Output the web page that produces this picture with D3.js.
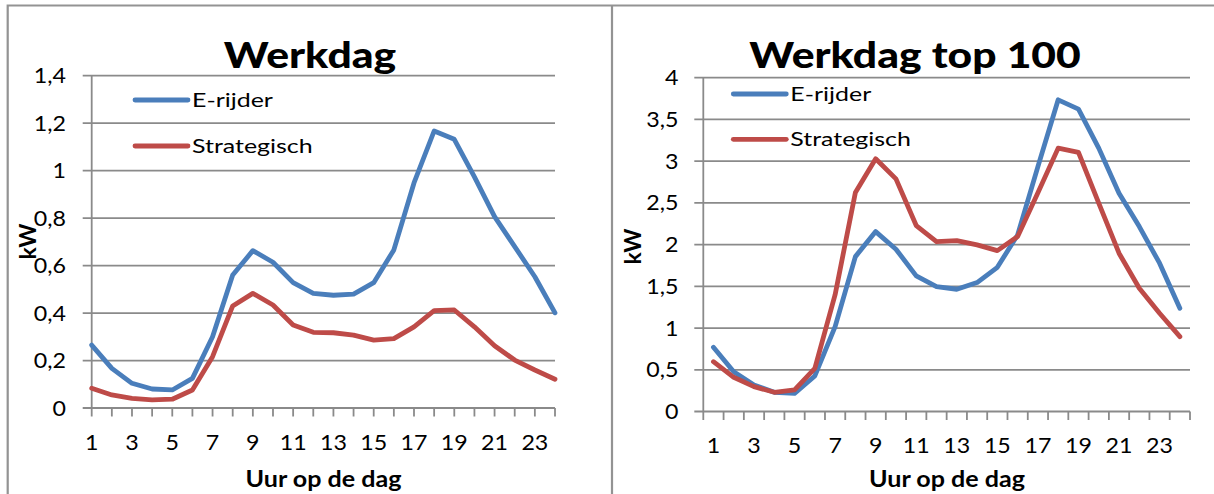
<!DOCTYPE html>
<html>
<head>
<meta charset="utf-8">
<script src="https://cdn.jsdelivr.net/npm/d3@7"></script>
<style>
  html, body { margin: 0; padding: 0; background: #fff; }
  svg { display: block; font-family: Lato, "Liberation Sans", sans-serif; }
</style>
</head>
<body>
<svg id="chart" width="1214" height="494"></svg>
<script>
// Uur van de dag (1..24)
const hours = d3.range(1, 25);
const hourLabels = [1, 3, 5, 7, 9, 11, 13, 15, 17, 19, 21, 23];
const seriesNames = ["E-rijder", "Strategisch"];

// Werkdag: gemiddeld vermogen (kW)
const werkdagERijder = [0.265, 0.167, 0.104, 0.080, 0.076, 0.125, 0.300, 0.560, 0.663, 0.614, 0.528, 0.483,
                        0.475, 0.480, 0.528, 0.666, 0.948, 1.167, 1.132, 0.974, 0.806, 0.680, 0.553, 0.401];
const werkdagStrategisch = [0.083, 0.055, 0.041, 0.034, 0.037, 0.076, 0.216, 0.430, 0.483, 0.434, 0.350, 0.319,
                            0.317, 0.307, 0.286, 0.292, 0.342, 0.410, 0.413, 0.342, 0.262, 0.202, 0.160, 0.121];
const werkdagTicks = [0, 0.2, 0.4, 0.6, 0.8, 1, 1.2, 1.4];

// Werkdag top 100 (kW)
const top100ERijder = [0.77, 0.477, 0.318, 0.230, 0.218, 0.426, 1.017, 1.856, 2.156, 1.945, 1.625, 1.497,
                       1.465, 1.545, 1.728, 2.116, 2.935, 3.735, 3.623, 3.156, 2.616, 2.216, 1.777, 1.237];
const top100Strategisch = [0.597, 0.410, 0.298, 0.230, 0.258, 0.518, 1.400, 2.624, 3.028, 2.788, 2.228, 2.036,
                           2.048, 1.996, 1.928, 2.096, 2.620, 3.156, 3.104, 2.497, 1.897, 1.477, 1.177, 0.897];
const top100Ticks = [0, 0.5, 1, 1.5, 2, 2.5, 3, 3.5, 4];

const colors = ["#4a7ebb", "#be4b48"];
const gridColor = "#8a8a8a";
const fmt = v => String(v).replace(".", ",");

const svg = d3.select("#chart");

// Frames around both panels
svg.append("path")
  .attr("d", "M7.7,500 V5.5 H1230 M612,5.5 V500")
  .attr("fill", "none").attr("stroke", "#939393").attr("stroke-width", 2.2);

function stretchedText(g, x, y, txt, size, weight, anchor, sx) {
  return g.append("text")
    .attr("transform", `translate(${x},${y}) scale(${sx},1)`)
    .attr("text-anchor", anchor)
    .attr("font-size", size)
    .attr("font-weight", weight)
    .attr("fill", "#000")
    .text(txt);
}

function drawPanel(cfg) {
  const g = svg.append("g");
  const y = d3.scaleLinear().domain([0, cfg.ymax]).range([cfg.y0, cfg.y1]);
  let tickXs;
  if (cfg.between) {
    const x = d3.scaleBand().domain(hours).range([cfg.x0, cfg.x1]).paddingInner(0).paddingOuter(0);
    tickXs = hours.map(h => x(h)).concat([cfg.x1]);
    cfg.xpos = h => x(h) + x.bandwidth() / 2;
  } else {
    const x = d3.scalePoint().domain(hours).range([cfg.x0, cfg.x1]);
    tickXs = hours.map(h => x(h));
    cfg.xpos = h => x(h);
  }

  // Horizontal gridlines with small left ticks
  g.selectAll("line.grid").data(cfg.ticks).join("line")
    .attr("x1", cfg.x0 - 9).attr("x2", cfg.x1)
    .attr("y1", d => y(d)).attr("y2", d => y(d))
    .attr("stroke", gridColor).attr("stroke-width", 1.8);

  // Vertical axis line
  g.append("line")
    .attr("x1", cfg.x0).attr("x2", cfg.x0)
    .attr("y1", y(cfg.ymax)).attr("y2", y(0))
    .attr("stroke", gridColor).attr("stroke-width", 1.8);

  // Category tick marks below the x axis
  g.selectAll("line.xt").data(tickXs).join("line")
    .attr("x1", d => d).attr("x2", d => d)
    .attr("y1", y(0)).attr("y2", y(0) + 8.5)
    .attr("stroke", gridColor).attr("stroke-width", 1.8);

  // Y tick labels
  cfg.ticks.forEach(t => {
    stretchedText(g, cfg.ylabX, y(t) + 7.5, fmt(t), 21.5, 400, "end", 1.08);
  });

  // X tick labels (odd hours)
  hourLabels.forEach(h => {
    stretchedText(g, cfg.xpos(h), cfg.xlabY, String(h), 21.5, 400, "middle", 1.08);
  });

  // Series lines
  const line = d3.line().x((d, i) => cfg.xpos(hours[i])).y(d => y(d));
  cfg.series.forEach((s, i) => {
    g.append("path").datum(s)
      .attr("d", line)
      .attr("fill", "none")
      .attr("stroke", colors[i])
      .attr("stroke-width", 4.8)
      .attr("stroke-linejoin", "round")
      .attr("stroke-linecap", "round");
  });

  // Legend
  seriesNames.forEach((name, i) => {
    const ly = cfg.legY[i];
    g.append("line")
      .attr("x1", cfg.legX).attr("x2", cfg.legX + 53)
      .attr("y1", ly).attr("y2", ly)
      .attr("stroke", colors[i]).attr("stroke-width", 4.8)
      .attr("stroke-linecap", "round");
    stretchedText(g, cfg.legX + 57, ly + 7, name, 19.5, 400, "start", 1.28);
  });

  // Title
  stretchedText(g, cfg.titleX, cfg.titleY, cfg.title, 35.5, 900, "middle", 1.2);

  // Axis titles
  stretchedText(g, cfg.xtitleX, 487, "Uur op de dag", 22, 700, "middle", 1.14);
  g.append("text")
    .attr("transform", `translate(${cfg.ktX},${cfg.ktY}) rotate(-90)`)
    .attr("text-anchor", "middle")
    .attr("font-size", 23).attr("font-weight", 700)
    .attr("fill", "#000")
    .text("kW");
}

drawPanel({
  between: false,
  x0: 91.7, x1: 555, y0: 408, y1: 75.7, ymax: 1.4,
  ticks: werkdagTicks,
  series: [werkdagERijder, werkdagStrategisch],
  ylabX: 66, xlabY: 450,
  legX: 135, legY: [100, 146],
  title: "Werkdag", titleX: 310, titleY: 67.7,
  xtitleX: 323.5, ktX: 36, ktY: 241.5
});

drawPanel({
  between: true,
  x0: 703.3, x1: 1190, y0: 411.5, y1: 77.7, ymax: 4,
  ticks: top100Ticks,
  series: [top100ERijder, top100Strategisch],
  ylabX: 678.5, xlabY: 453,
  legX: 733.3, legY: [94, 139.3],
  title: "Werkdag top 100", titleX: 915, titleY: 68,
  xtitleX: 947, ktX: 641, ktY: 246.5
});
</script>
</body>
</html>
